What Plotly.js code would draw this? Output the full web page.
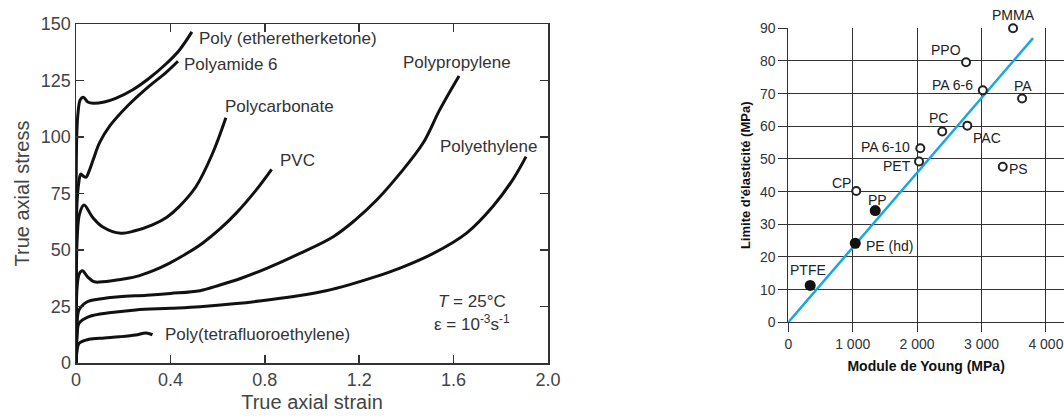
<!DOCTYPE html>
<html>
<head>
<meta charset="utf-8">
<script src="https://cdn.plot.ly/plotly-3.0.1.min.js"></script>
<style>html,body{margin:0;padding:0;background:#fff;overflow:hidden}#chart{width:1064px;height:416px}</style>
</head>
<body>
<div id="chart"></div>
<script>
// ---------- Left panel: true stress / true strain curves ----------
const peekStrain   = [0, 0.003, 0.008, 0.018, 0.031, 0.05, 0.073, 0.12, 0.168, 0.239, 0.31, 0.381, 0.437, 0.491];
const peekStress   = [0, 100, 110, 116.5, 117.6, 115.5, 114.9, 115.5, 117.1, 120.8, 126, 132.3, 138.3, 146.5];
const pa6Strain    = [0, 0.004, 0.012, 0.02, 0.03, 0.042, 0.056, 0.073, 0.1, 0.144, 0.215, 0.31, 0.381, 0.432];
const pa6Stress    = [0, 70, 80, 83.6, 82.8, 82.2, 85, 90, 97.5, 105, 113.4, 122.5, 128.5, 133.5];
const pcStrain     = [0, 0.005, 0.015, 0.034, 0.07, 0.112, 0.19, 0.25, 0.324, 0.385, 0.437, 0.508, 0.579, 0.635];
const pcStress     = [0, 55, 66, 69.9, 64.5, 60.3, 57.4, 58.5, 61.1, 64.5, 69.2, 78, 92.8, 108.5];
const pvcStrain    = [0, 0.005, 0.014, 0.027, 0.05, 0.076, 0.1, 0.18, 0.253, 0.33, 0.395, 0.465, 0.536, 0.61, 0.678, 0.763, 0.829];
const pvcStress    = [0, 34, 39.5, 40.8, 38, 36, 35.8, 36.8, 38.2, 41, 44.1, 48.2, 53, 59.3, 66.2, 76.5, 85.7];
const ppStrain     = [0, 0.005, 0.013, 0.048, 0.1, 0.183, 0.3, 0.4, 0.525, 0.61, 0.7, 0.808, 0.949, 1.09, 1.18, 1.274, 1.373, 1.47, 1.541, 1.623];
const ppStress     = [0, 18, 23.5, 27.1, 28.3, 29.3, 30, 30.8, 32, 34.5, 37.5, 41.9, 48.5, 55.9, 63, 72.1, 83.9, 97.2, 112, 127];
const peStrain     = [0, 0.005, 0.013, 0.055, 0.15, 0.253, 0.4, 0.525, 0.68, 0.82, 0.949, 1.06, 1.16, 1.27, 1.373, 1.514, 1.655, 1.768, 1.853, 1.907];
const peStress     = [0, 12, 17.6, 20.5, 22.3, 23.5, 24.2, 24.9, 26.3, 28, 29.9, 32, 34.7, 38.2, 42, 48.5, 57.5, 69.5, 81.5, 91.3];
const ptfeStrain   = [0, 0.004, 0.013, 0.055, 0.12, 0.183, 0.253, 0.296, 0.324];
const ptfeStress   = [0, 5, 8.7, 10.5, 11.1, 11.6, 12.4, 13.3, 12.5];

const curveNames = ['Poly (etheretherketone)', 'Polyamide 6', 'Polycarbonate', 'PVC',
                    'Polypropylene', 'Polyethylene', 'Poly(tetrafluoroethylene)'];
const curveX = [peekStrain, pa6Strain, pcStrain, pvcStrain, ppStrain, peStrain, ptfeStrain];
const curveY = [peekStress, pa6Stress, pcStress, pvcStress, ppStress, peStress, ptfeStress];

// label anchor points (strain, stress) for each curve name
const labelStrain = [0.514, 0.45, 0.624, 0.854, 1.379, 1.534, 0.369];
const labelStress = [143.8, 131.9, 113.3, 89.8, 132.9, 96, 12.4];

const strainTicks    = [0, 0.4, 0.8, 1.2, 1.6, 2.0];
const strainTickText = ['0', '0.4', '0.8', '1.2', '1.6', '2.0'];
const stressTicks    = [0, 25, 50, 75, 100, 125, 150];

// ---------- Right panel: yield stress vs Young's modulus ----------
const openNames   = ['PMMA', 'PPO', 'PA 6-6', 'PA', 'PC', 'PAC', 'PA 6-10', 'PET', 'PS', 'CP'];
const openModulus = [3490, 2760, 3020, 3630, 2390, 2780, 2050, 2030, 3330, 1055];
const openYield   = [90, 79.6, 71, 68.5, 58.4, 60.2, 53.3, 49.2, 47.6, 40.2];
const filledNames   = ['PP', 'PE (hd)', 'PTFE'];
const filledModulus = [1350, 1040, 340];
const filledYield   = [34.2, 24.2, 11.3];
const fitModulus = [0, 3800];
const fitYield   = [0, 87];

const moduleTicks    = [0, 1000, 2000, 3000, 4000];
const moduleTickText = ['0', '1 000', '2 000', '3 000', '4 000'];
const yieldTicks     = [0, 10, 20, 30, 40, 50, 60, 70, 80, 90];

// label offsets from their point, in pixels [dx, dy(up)] (style only)
const labelShift = {
  'PMMA': [0, 13], 'PPO': [-20, 12], 'PA 6-6': [-30, 5], 'PA': [1, 13],
  'PC': [-4, 14], 'PAC': [20, -12], 'PA 6-10': [-35, 1], 'PET': [-22, -4],
  'PS': [16, -2], 'CP': [-15, 8], 'PP': [2, 11], 'PE (hd)': [34, -3], 'PTFE': [-2, 15]
};

const W = 1064, H = 416;
const FONT = 'Liberation Sans, Arial, Helvetica, sans-serif';

const traces = [];
for (let i = 0; i < curveNames.length; i++) {
  traces.push({
    x: curveX[i], y: curveY[i], xaxis: 'x', yaxis: 'y',
    type: 'scatter', mode: 'lines', name: curveNames[i],
    line: {color: '#111', width: 3, shape: 'spline', smoothing: 1.0},
    hoverinfo: 'skip'
  });
}
traces.push({
  x: fitModulus, y: fitYield, xaxis: 'x2', yaxis: 'y2', type: 'scatter', mode: 'lines',
  line: {color: '#1aa6e0', width: 2.5}, hoverinfo: 'skip'
});
traces.push({
  x: openModulus, y: openYield, xaxis: 'x2', yaxis: 'y2',
  type: 'scatter', mode: 'markers', name: 'open',
  marker: {symbol: 'circle', size: 8, color: '#fff', line: {color: '#222', width: 2}},
  cliponaxis: false
});
traces.push({
  x: filledModulus, y: filledYield, xaxis: 'x2', yaxis: 'y2',
  type: 'scatter', mode: 'markers', name: 'filled',
  marker: {symbol: 'circle', size: 11, color: '#111'},
  cliponaxis: false
});

const annotations = curveNames.map((n, i) => ({
  x: labelStrain[i], y: labelStress[i], xref: 'x', yref: 'y',
  text: n, showarrow: false, xanchor: 'left', yanchor: 'middle',
  font: {family: FONT, size: 17, color: '#333'}
}));
annotations.push({
  x: 1.676, y: 27.1, xref: 'x', yref: 'y', text: '<i>T</i> = 25°C', showarrow: false,
  xanchor: 'center', yanchor: 'middle', font: {family: FONT, size: 17, color: '#333'}
});
annotations.push({
  x: 1.676, y: 17.8, xref: 'x', yref: 'y', text: 'ε = 10<sup>-3</sup>s<sup>-1</sup>', showarrow: false,
  xanchor: 'center', yanchor: 'middle', font: {family: FONT, size: 17, color: '#333'}
});
const addPointLabels = (names, xs, ys) => names.forEach((n, i) => annotations.push({
  x: xs[i], y: ys[i], xref: 'x2', yref: 'y2', text: n, showarrow: false,
  xanchor: 'center', yanchor: 'middle', xshift: labelShift[n][0], yshift: labelShift[n][1],
  font: {family: FONT, size: 14, color: '#222'}
}));
addPointLabels(openNames, openModulus, openYield);
addPointLabels(filledNames, filledModulus, filledYield);

const leftAxis = {
  showline: true, linecolor: '#333', linewidth: 1.5, mirror: 'ticks',
  ticks: 'inside', ticklen: 8, tickcolor: '#333', tickwidth: 1.5,
  showgrid: false, zeroline: false,
  tickfont: {family: FONT, size: 18, color: '#444'}
};

const layout = {
  width: W, height: H, margin: {l: 0, r: 0, t: 0, b: 0},
  paper_bgcolor: '#fff', plot_bgcolor: '#fff', showlegend: false,
  font: {family: FONT},
  xaxis: Object.assign({}, leftAxis, {
    domain: [76 / W, 548 / W], range: [0, 2], anchor: 'y',
    tickvals: strainTicks, ticktext: strainTickText,
    title: {text: 'True axial strain', font: {family: FONT, size: 20, color: '#444'}, standoff: 6}
  }),
  yaxis: Object.assign({}, leftAxis, {
    domain: [(H - 363) / H, (H - 24) / H], range: [0, 150], anchor: 'x',
    tickvals: stressTicks,
    title: {text: 'True axial stress', font: {family: FONT, size: 20, color: '#444'}, standoff: 6}
  }),
  xaxis2: {
    domain: [788.3 / W, 1], range: [0, 4281], anchor: 'y2',
    tickvals: moduleTicks, ticktext: moduleTickText,
    showgrid: true, gridcolor: '#333', gridwidth: 1,
    showline: true, linecolor: '#333', linewidth: 1, zeroline: false,
    ticks: 'outside', ticklen: 9, tickcolor: '#333',
    tickfont: {family: FONT, size: 14, color: '#333'},
    title: {text: '<b>Module de Young (MPa)</b>', font: {family: FONT, size: 14, color: '#111'}, standoff: 10}
  },
  yaxis2: {
    domain: [(H - 322.3) / H, (H - 28.3) / H], range: [0, 90], anchor: 'x2',
    tickvals: yieldTicks,
    showgrid: true, gridcolor: '#333', gridwidth: 1,
    showline: true, linecolor: '#333', linewidth: 1, zeroline: false,
    ticks: 'outside', ticklen: 9, tickcolor: '#333',
    tickfont: {family: FONT, size: 14, color: '#333'},
    title: {text: "<b>Limite d'élasticité (MPa)</b>", font: {family: FONT, size: 13, color: '#111'}, standoff: 6}
  },
  annotations: annotations
};

Plotly.newPlot('chart', traces, layout, {staticPlot: true, displayModeBar: false});
</script>
</body>
</html>
